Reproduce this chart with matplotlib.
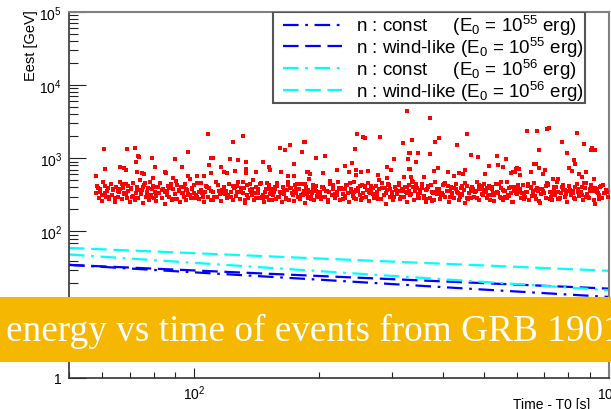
import math

import matplotlib
matplotlib.use("Agg")
import matplotlib.pyplot as plt
from matplotlib.patches import Rectangle
from matplotlib.ticker import FixedLocator, LogLocator, FuncFormatter, NullFormatter

plt.rcParams["font.family"] = ["Liberation Sans", "DejaVu Sans"]
plt.rcParams["mathtext.fontset"] = "custom"
plt.rcParams["mathtext.rm"] = "Liberation Sans"
plt.rcParams["mathtext.it"] = "Liberation Sans:italic"

# --- model curves (E_max vs time) -----------------------------------------
line_t = [50, 100, 200, 500, 1000]
blue_const = [35.0, 27.7, 22.0, 16.1, 12.8]
blue_wind = [35.0, 29.4, 24.7, 19.7, 16.6]
cyan_const = [48.5, 37.4, 28.8, 20.5, 15.8]
cyan_wind = [59.7, 50.6, 42.8, 34.4, 29.1]

# --- events: main band -----------------------------------------------------
band_t = [
    58, 58.5, 59, 59.5, 60, 60.5, 61, 61.5, 62, 62.5,
    63, 63.5, 64, 64.5, 65, 65.5, 66, 66.5, 67, 67.5,
    68, 68.5, 69, 69.5, 70,
    70.5, 71, 71.5, 72, 72.5, 73, 73.5, 74, 74.5, 75,
    75.5, 76, 76.5, 77, 77.5, 78, 78.5, 79, 79.5, 80,
    80.5, 81, 82, 82.5, 83, 84, 84.5, 85, 86, 86.5,
    87, 88, 88.5, 89, 90, 90.5, 91, 92, 92.5, 93,
    94, 94.5, 95, 96, 96.5, 97, 98, 98.5, 99, 100,
    101, 102, 103, 104, 105, 106, 107, 108, 109, 110,
    111.5, 113, 114, 115, 116.5, 118, 119, 120, 121.5, 123,
    124, 125, 126.5, 128, 129, 130, 131.5, 133, 134, 135,
    136.5, 138, 139, 140, 141.5, 143, 144, 145, 146.5, 148,
    149, 150, 151.5, 153, 154, 155, 156.5, 158, 159, 160,
    161.5, 163, 164, 165, 166.5, 168, 169, 170, 171.5, 173,
    174, 175, 176.5, 178, 179, 180, 181.5, 183, 184, 185,
    186.5, 188, 189, 190, 191.5, 193, 194, 195, 196.5, 198,
    199, 100.5, 104.5, 112, 117, 127, 137, 147, 157, 167,
    177, 187, 197, 132, 152,
    201, 203, 205, 207, 209, 211, 213, 215, 217, 219,
    221, 223, 225, 227, 229, 231, 233, 235, 237, 240,
    242, 244, 246, 249, 251, 253, 256, 258, 260, 263,
    265, 268, 270, 272, 275, 277, 280, 282, 285, 287,
    290, 293, 295, 298, 300, 303, 306, 309, 312, 315,
    318, 321, 324, 327, 330, 333, 336, 339, 342, 345,
    348, 352, 355, 358, 362, 365, 368, 372, 375, 379,
    382, 386, 390, 393, 397, 400, 404, 408, 412, 416,
    420, 424, 428, 432, 436, 440, 444, 448, 452, 456,
    460, 465, 469, 473, 478, 482, 487, 491, 496, 500,
    204, 212, 222, 232, 243, 254, 266, 278, 289, 301,
    313, 326, 338, 350, 363, 376, 389, 402, 415, 429,
    443, 458, 472, 486, 498,
    505, 510, 515, 520, 525, 530, 535, 540, 546, 552,
    558, 564, 570, 576, 582, 588, 594, 600, 607, 614,
    621, 628, 635, 642, 649, 656, 663, 670, 677, 684,
    691, 698, 705, 713, 721, 729, 737, 745, 753, 761,
    769, 777, 785, 794, 803, 812, 821, 830, 839, 848,
    857, 866, 876, 886, 896, 906, 916, 926, 936, 946,
    956, 966, 976, 986, 995, 508, 518, 528, 538, 549,
    561, 573, 585, 597, 611, 625, 639, 653, 667, 681,
    695, 709, 725, 741, 757, 773, 790, 808, 826, 844,
    862, 881, 901, 921, 941,
    58.7, 60.1, 61.8, 63.2, 64.7, 66.3, 67.9, 69.5, 71.2, 72.9,
    74.6, 76.4, 78.2, 80.1, 82.0, 84.0, 86.0, 88.1, 90.2, 92.3,
    94.5, 96.8, 99.1, 101.5, 103.9, 106.4, 108.9, 111.5, 114.2, 116.9,
    119.7, 122.6, 125.5, 128.5, 131.6, 134.7, 137.9, 141.2, 144.6, 148.1,
    151.6, 155.2, 158.9, 162.7, 166.6, 170.6, 174.7, 178.8, 183.1, 187.5,
    192.0, 196.6, 201.3, 206.1, 211.0, 216.1, 221.2, 226.5, 231.9, 237.5,
    243.2, 249.0, 254.9, 261.0, 267.3, 273.7, 280.2, 286.9, 293.8, 300.8,
    308.0, 315.4, 322.9, 330.7, 338.6, 346.7, 355.0, 363.5, 372.2, 381.1,
    390.2, 399.6, 409.1, 418.9, 428.9, 439.2, 449.7, 460.5, 471.5, 482.8,
    494.3, 506.2, 518.3, 530.7, 543.4, 556.4, 569.8, 583.4, 597.4, 611.7,
    626.3, 641.3, 656.7, 672.4, 688.5, 705.0, 721.9, 739.2, 756.9, 775.0,
    793.6, 812.6, 832.0, 851.9, 872.3, 893.2, 914.6, 936.5, 958.9, 981.9,
    59.4, 61.0, 62.5, 64.0, 65.5, 67.1, 68.7, 70.4, 72.0, 73.8,
    75.5, 77.3, 79.2, 81.0, 83.0, 85.0, 87.0, 89.1, 91.2, 93.4,
    95.7, 97.9, 100.3, 102.7, 105.1, 107.6, 110.2, 112.8, 115.5, 118.3,
    121.1, 124.0, 127.0, 130.0, 133.1, 136.3, 139.6, 142.9, 146.3, 149.8,
    153.4, 157.0, 160.8, 164.6, 168.6, 172.6, 176.7, 181.0, 185.3, 189.7,
    194.3, 198.9, 203.7, 208.6, 213.5, 218.6, 223.9, 229.2, 234.7, 240.3,
    246.1, 251.9, 258.0, 264.1, 270.5, 276.9, 283.6, 290.4, 297.3, 304.4,
    311.7, 319.1, 326.8, 334.6, 342.6, 350.8, 359.2, 367.8, 376.6, 385.6,
    394.9, 404.3, 414.0, 423.9, 434.0, 444.4, 455.1, 466.0, 477.1, 488.5,
    500.2, 512.2, 524.5, 537.0, 549.9, 563.1, 576.5, 590.3, 604.5, 618.9,
    633.8, 648.9, 664.5, 680.4, 696.7, 713.4, 730.5, 748.0, 765.9, 784.3,
    803.1, 822.3, 842.0, 862.2, 882.8, 904.0, 925.7, 947.9, 970.6, 993.9,
]
band_e = [
    330, 420, 290, 375, 260, 470, 340, 300, 395, 280,
    450, 315, 365, 255, 410, 300, 350, 480, 275, 390,
    325, 440, 290, 360, 250,
    380, 300, 455, 270, 340, 410, 285, 500, 320, 365,
    245, 430, 295, 350, 390, 265, 475, 310, 420, 285,
    345, 260, 400, 330, 460, 290, 375, 240, 355, 415,
    300, 445, 270, 385, 325, 490, 280, 360, 250, 405,
    335, 295, 440, 265, 370, 310, 520, 285, 395, 340,
    310, 455, 280, 370, 335, 250, 420, 300, 390, 270,
    345, 480, 295, 360, 260, 410, 325, 285, 440, 350,
    265, 395, 305, 470, 275, 380, 330, 245, 425, 290,
    365, 315, 500, 270, 400, 340, 285, 455, 310, 255,
    375, 295, 430, 320, 265, 385, 350, 280, 460, 300,
    345, 255, 410, 325, 290, 370, 480, 270, 395, 315,
    260, 435, 335, 300, 380, 275, 450, 310, 355, 245,
    405, 290, 365, 520, 280, 340, 425, 265, 390, 305,
    350, 285, 330, 300, 370, 415, 345, 290, 385, 275,
    440, 320, 360, 395, 265,
    330, 275, 410, 300, 360, 255, 445, 315, 385, 285,
    350, 470, 265, 395, 320, 290, 430, 340, 250, 375,
    305, 480, 280, 355, 415, 270, 335, 400, 295, 455,
    260, 365, 320, 285, 420, 345, 500, 275, 390, 310,
    240, 370, 435, 295, 350, 265, 405, 325, 460, 280,
    380, 300, 345, 255, 425, 315, 490, 270, 360, 395,
    285, 335, 440, 305, 250, 375, 415, 290, 350, 265,
    470, 320, 385, 280, 340, 430, 300, 360, 255, 405,
    325, 290, 450, 345, 270, 390, 310, 365, 245, 420,
    335, 285, 400, 300, 355, 480, 265, 375, 320, 440,
    295, 350, 315, 380, 285, 425, 340, 275, 395, 305,
    360, 330, 410, 290, 370, 260, 345, 445, 300, 385,
    320, 275, 355, 405, 310,
    350, 285, 420, 310, 375, 260, 445, 330, 295, 390,
    270, 355, 480, 305, 340, 250, 410, 320, 365, 285,
    435, 300, 345, 270, 395, 315, 460, 280, 360, 245,
    385, 330, 290, 425, 350, 265, 400, 310, 470, 275,
    340, 380, 295, 255, 415, 325, 360, 280, 450, 305,
    345, 265, 390, 320, 290, 430, 355, 240, 375, 310,
    405, 285, 340, 365, 300, 395, 270, 335, 440, 290,
    360, 315, 250, 385, 345, 280, 420, 305, 370, 260,
    330, 455, 295, 350, 275, 400, 320, 365, 285, 345,
    410, 300, 375, 265, 335,
    395, 310, 360, 445, 290, 375, 330, 420, 305, 385,
    350, 460, 295, 400, 340, 370, 315, 435, 280, 365,
    410, 325, 380, 300, 455, 345, 390, 270, 425, 335,
    360, 300, 405, 350, 470, 315, 385, 290, 440, 345,
    375, 310, 420, 335, 285, 395, 355, 450, 320, 370,
    300, 415, 345, 385, 265, 430, 330, 375, 305, 460,
    350, 395, 290, 365, 420, 325, 380, 310, 445, 340,
    370, 295, 405, 355, 480, 320, 390, 275, 430, 345,
    365, 310, 415, 340, 385, 300, 455, 330, 375, 290,
    420, 350, 395, 315, 440, 365, 285, 405, 335, 380,
    305, 450, 355, 390, 325, 415, 280, 370, 345, 430,
    360, 310, 400, 340, 465, 295, 385, 350, 420, 330,
    345, 420, 300, 380, 355, 445, 320, 395, 285, 365,
    410, 335, 375, 305, 460, 350, 390, 275, 430, 340,
    385, 315, 425, 345, 295, 400, 360, 470, 325, 375,
    310, 420, 350, 390, 270, 440, 335, 380, 300, 455,
    355, 400, 295, 370, 425, 330, 385, 315, 450, 345,
    375, 300, 410, 360, 490, 325, 395, 280, 435, 350,
    370, 315, 420, 345, 390, 305, 460, 335, 380, 295,
    425, 355, 400, 320, 445, 370, 290, 410, 340, 385,
    310, 455, 360, 395, 330, 420, 285, 375, 350, 435,
    365, 315, 405, 345, 470, 300, 390, 355, 425, 335,
    350, 410, 305, 385, 360, 440, 325, 400, 290, 370,
    415, 340, 380, 310, 455, 355, 395, 280, 430, 345,
]

# --- events: sparse high-energy tail -------------------------------------
tail_t = [
    60.6, 68.9, 72.3, 73.5, 73.9, 79.3, 96.9, 90.1, 72.7, 80.5,
    93.6, 61.0, 66.4, 68.0, 68.6, 85.4, 85.9, 73.1, 74.8, 76.0,
    58.2, 89.1, 101.7, 105.7, 96.9, 79.5,
    108.3, 131.6, 124.4, 184.6, 170.8, 161.1, 165.6, 182.6, 109.7, 111.1,
    122.4, 128.0, 133.6, 147.0, 108.9, 174.6, 116.2, 133.8, 151.7, 152.8,
    125.6, 118.1, 119.9, 133.3, 141.6, 161.9, 110.1, 187.4, 169.1, 174.3,
    325.8, 247.7, 255.6, 258.5, 280.5, 336.5, 185.1, 319.1, 244.3, 331.1,
    196.8, 207.6, 304.4, 328.0, 241.2, 231.2, 293.1, 220.9, 246.0, 299.2,
    331.1, 188.0, 190.6, 205.2, 237.2, 253.4, 262.8, 277.5, 246.5, 321.2,
    334.4, 291.5,
    371.7, 455.7, 389.3, 381.3, 431.6, 332.0, 347.4, 370.7, 465.0, 485.6,
    537.4, 567.2, 342.6, 540.3, 557.5, 516.4, 387.1, 380.2, 451.6, 332.0,
    600.4, 594.0, 582.1, 411.2, 436.3, 444.6, 504.5, 423.6, 359.5,
    719.3, 711.0, 636.3, 671.5, 839.6, 771.0, 871.3, 911.2, 926.8, 905.4,
    681.2, 792.3, 824.4, 829.3, 662.6, 669.6, 598.4, 609.4, 589.4, 679.3,
    704.7, 804.6, 817.0, 648.6, 693.9, 849.4, 883.4, 865.5, 733.0, 754.6,
    925.0, 612.6,
]
tail_e = [
    1343, 1343, 1374, 1089, 1035, 1012, 1211, 981, 885, 770,
    770, 723, 770, 733, 695, 646, 622, 646, 622, 610,
    580, 545, 580, 580, 565, 545,
    2108, 2042, 1660, 1690, 1510, 1374, 1291, 1211, 1012, 1012,
    981, 951, 901, 901, 812, 847, 770, 716, 770, 701,
    679, 646, 622, 634, 646, 658, 622, 646, 569, 569,
    4398, 2108, 1978, 1900, 1978, 1800, 1690, 1608, 1331, 1186,
    1012, 1078, 981, 981, 874, 795, 770, 701, 701, 701,
    723, 646, 612, 622, 646, 646, 667, 599, 594, 552,
    552, 545,
    3532, 2174, 1900, 1690, 1510, 1186, 1186, 1148, 1112, 1045,
    1078, 981, 901, 812, 756, 795, 746, 667, 701, 723,
    733, 658, 634, 646, 634, 606, 606, 580, 557,
    2602, 2522, 2316, 2316, 2244, 1690, 1559, 1400, 1291, 1315,
    1315, 1186, 951, 847, 830, 830, 716, 716, 658, 733,
    701, 733, 679, 658, 612, 606, 646, 552, 523, 523,
    523, 594,
]

legend_labels = [
    "n : const     (E$_0$ = 10$^{55}$ erg)",
    "n : wind-like (E$_0$ = 10$^{55}$ erg)",
    "n : const     (E$_0$ = 10$^{56}$ erg)",
    "n : wind-like (E$_0$ = 10$^{56}$ erg)",
]
banner_text = "energy vs time of events from GRB 190114C"

W, H = 611, 410
fig = plt.figure(figsize=(W / 100, H / 100), dpi=100)
ax = fig.add_axes([69 / W, 1 - 379 / H, 539.5 / W, 366.3 / H])

ax.plot(band_t + tail_t, band_e + tail_e, ls="none", marker="s", ms=2.4,
        mew=0, color="#ff0000", zorder=3)

dashdot = (0, (7, 3, 1.2, 3))
dashed = (0, (7, 3))
h1, = ax.plot(line_t, blue_const, color="#0000ff", lw=1.6, ls=dashdot, zorder=2)
h2, = ax.plot(line_t, blue_wind, color="#0000ff", lw=1.6, ls=dashed, zorder=2)
h3, = ax.plot(line_t, cyan_const, color="#00ffff", lw=1.6, ls=dashdot, zorder=2)
h4, = ax.plot(line_t, cyan_wind, color="#00ffff", lw=1.6, ls=dashed, zorder=2)

ax.set_xscale("log")
ax.set_yscale("log")
ax.set_xlim(50, 1000)
ax.set_ylim(1, 1e5)


def _ylab(v, pos):
    n = int(round(math.log10(v)))
    if n == 0:
        return "1"
    if n == 1:
        return "10"
    return "$10^{%d}$" % n


ax.yaxis.set_major_locator(FixedLocator([1, 10, 100, 1e3, 1e4, 1e5]))
ax.yaxis.set_major_formatter(FuncFormatter(_ylab))
ax.yaxis.set_minor_locator(LogLocator(base=10, subs=range(2, 10), numticks=20))
ax.yaxis.set_minor_formatter(NullFormatter())
ax.xaxis.set_major_locator(FixedLocator([100, 1000]))
ax.xaxis.set_major_formatter(FuncFormatter(lambda v, p: "$10^{%d}$" % round(math.log10(v))))
ax.xaxis.set_minor_locator(LogLocator(base=10, subs=range(2, 10), numticks=20))
ax.xaxis.set_minor_formatter(NullFormatter())

ax.tick_params(axis="both", which="both", direction="in", top=False, right=False,
               colors="#222222", labelcolor="black", labelsize=10, width=0.8)
ax.tick_params(axis="y", which="major", length=12, pad=5)
ax.tick_params(axis="y", which="minor", length=6.5)
ax.tick_params(axis="x", which="major", length=7.2, pad=4)
ax.tick_params(axis="x", which="minor", length=4.3)

for side in ("left", "bottom"):
    ax.spines[side].set_color("#333333")
    ax.spines[side].set_linewidth(1.2)
for side in ("top", "right"):
    ax.spines[side].set_color("#808080")
    ax.spines[side].set_linewidth(1.5)

# legend box drawn separately so its size matches the ROOT pave
ax.add_patch(Rectangle((0.3776, 0.7508), 0.5788, 0.2492, transform=ax.transAxes,
                       facecolor="white", edgecolor="#555555", lw=1.5, zorder=4))
leg = ax.legend([h1, h2, h3, h4], legend_labels, loc="upper left",
                bbox_to_anchor=((283 - 69) / 539.5, (379 - 14) / 366.3),
                borderaxespad=0, borderpad=0, fontsize=13.5, handlelength=3.15,
                handletextpad=0.75, labelspacing=-0.12, frameon=False)
leg.set_zorder(5)

fig.text(31 / W, 1 - 10 / H, "Eest [GeV]", rotation=90, ha="center", va="top", fontsize=10.5)
fig.text(590 / W, 1 - 398 / H, "Time - T0 [s]", ha="right", va="top", fontsize=10)

# yellow banner overlaid across the figure
fig.patches.append(Rectangle((0, 1 - 363 / H), 1, 65 / H, transform=fig.transFigure,
                             facecolor="#f5b700", edgecolor="none", zorder=10))
fig.text(6 / W, 1 - 331 / H, banner_text, ha="left", va="center", color="white",
         fontsize=26.8, family=["Liberation Serif", "DejaVu Serif"], zorder=11)

fig.savefig("out.png", dpi=100)
